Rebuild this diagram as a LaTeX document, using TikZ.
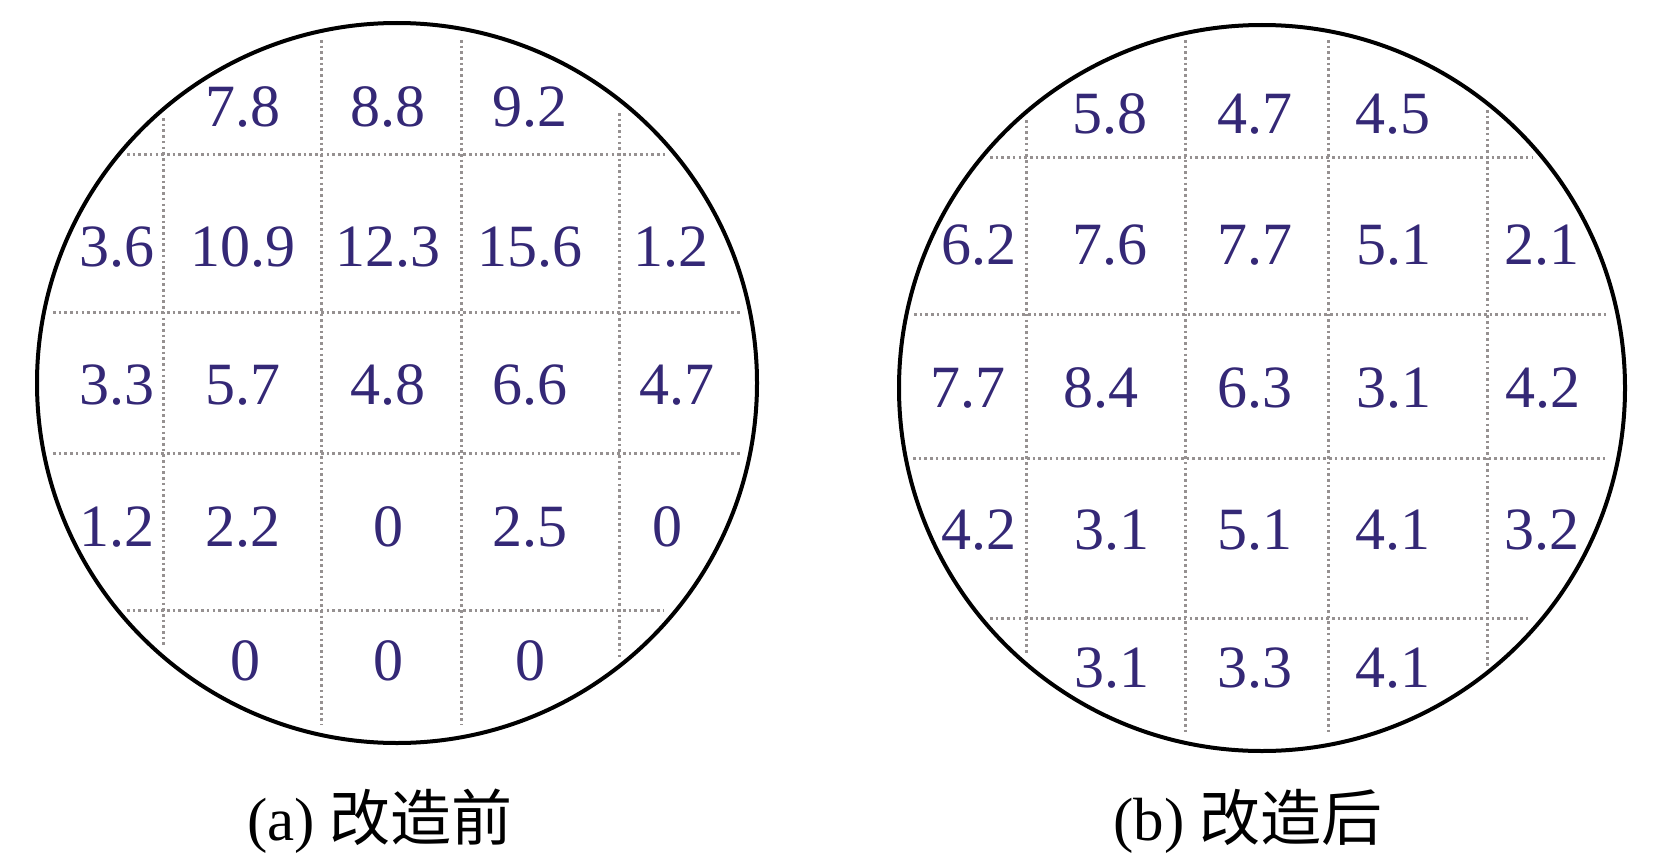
\documentclass[tikz,border=0pt]{standalone}
\usepackage{fontspec}
\setmainfont{Liberation Serif}
\newfontfamily\cjk{Noto Sans CJK SC}
\definecolor{numcol}{RGB}{52,40,118}
\definecolor{gridcol}{RGB}{150,145,145}
\begin{document}
\begin{tikzpicture}[x=1pt,y=-1pt,
  num/.style={text=numcol,inner sep=0pt,font=\fontsize{60}{70}\selectfont},
  gridline/.style={draw=gridcol,line width=3pt,dash pattern=on 2.6pt off 3.1pt},
  wafer/.style={circle,draw=black,line width=4pt,inner sep=0pt},
  captext/.style={inner sep=0pt,text=black,font=\fontsize{61}{72}\selectfont}]
\useasboundingbox[fill=white] (0,0) rectangle (1654,859);

% ---------- left wafer ----------
\draw[gridline] (163,118) -- (163,647);
\draw[gridline] (321,40) -- (321,725);
\draw[gridline] (461,40) -- (461,725);
\draw[gridline] (619,113) -- (619,657);
\draw[gridline] (127,154) -- (665,154);
\draw[gridline] (53,312) -- (740,312);
\draw[gridline] (53,453) -- (740,453);
\draw[gridline] (127,610) -- (663,610);
\node[wafer,minimum size=720pt] (waferA) at (397,383) {};

\node[num] (a01) at (243,107) {7.8};
\node[num] (a02) at (388,107) {8.8};
\node[num] (a03) at (530,107) {9.2};

\node[num] (a10) at (117,247) {3.6};
\node[num] (a11) at (243,247) {10.9};
\node[num] (a12) at (388,247) {12.3};
\node[num] (a13) at (530,247) {15.6};
\node[num] (a14) at (671,247) {1.2};

\node[num] (a20) at (117,385) {3.3};
\node[num] (a21) at (243,385) {5.7};
\node[num] (a22) at (388,385) {4.8};
\node[num] (a23) at (530,385) {6.6};
\node[num] (a24) at (677,385) {4.7};

\node[num] (a30) at (117,527) {1.2};
\node[num] (a31) at (243,527) {2.2};
\node[num] (a32) at (388,527) {0};
\node[num] (a33) at (530,527) {2.5};
\node[num] (a34) at (667,527) {0};

\node[num] (a41) at (245,661) {0};
\node[num] (a42) at (388,661) {0};
\node[num] (a43) at (530,661) {0};

% ---------- right wafer ----------
\draw[gridline] (1026,120) -- (1026,653);
\draw[gridline] (1185,40) -- (1185,733);
\draw[gridline] (1328,40) -- (1328,733);
\draw[gridline] (1487,110) -- (1487,667);
\draw[gridline] (990,157) -- (1532,157);
\draw[gridline] (914,314) -- (1608,314);
\draw[gridline] (913,458) -- (1608,458);
\draw[gridline] (990,618) -- (1530,618);
\node[wafer,minimum size=726pt] (waferB) at (1262,388) {};

\node[num] (b01) at (1110,114) {5.8};
\node[num] (b02) at (1255,114) {4.7};
\node[num] (b03) at (1393,114) {4.5};

\node[num] (b10) at (979,245) {6.2};
\node[num] (b11) at (1110,245) {7.6};
\node[num] (b12) at (1255,245) {7.7};
\node[num] (b13) at (1394,245) {5.1};
\node[num] (b14) at (1542,245) {2.1};

\node[num] (b20) at (968,388) {7.7};
\node[num] (b21) at (1101,388) {8.4};
\node[num] (b22) at (1255,388) {6.3};
\node[num] (b23) at (1394,388) {3.1};
\node[num] (b24) at (1543,388) {4.2};

\node[num] (b30) at (979,530) {4.2};
\node[num] (b31) at (1112,530) {3.1};
\node[num] (b32) at (1255,530) {5.1};
\node[num] (b33) at (1393,530) {4.1};
\node[num] (b34) at (1542,530) {3.2};

\node[num] (b41) at (1112,668) {3.1};
\node[num] (b42) at (1255,668) {3.3};
\node[num] (b43) at (1393,668) {4.1};

% ---------- captions ----------
\node[captext] (capA) at (380,821) {(a) {\cjk 改造前}};
\node[captext] (capB) at (1248,821) {(b) {\cjk 改造后}};
\end{tikzpicture}
\end{document}
